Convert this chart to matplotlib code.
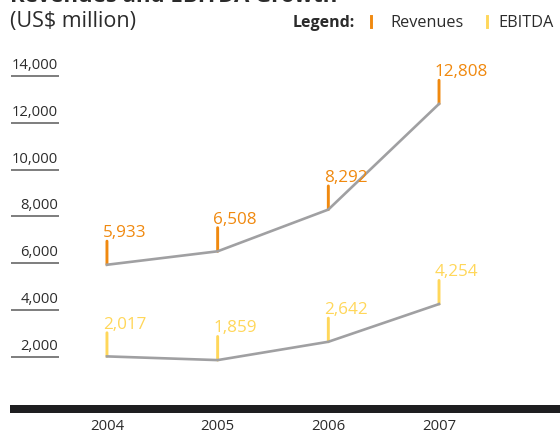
import matplotlib

matplotlib.use("Agg")
import matplotlib.pyplot as plt
from matplotlib.patches import Rectangle
from matplotlib.transforms import blended_transform_factory

plt.rcParams["font.family"] = ["Open Sans", "DejaVu Sans"]

years = [2004, 2005, 2006, 2007]
revenues = [5933, 6508, 8292, 12808]
ebitda = [2017, 1859, 2642, 4254]
y_ticks = [2000, 4000, 6000, 8000, 10000, 12000, 14000]

ORANGE = "#F0890F"
YELLOW = "#FFD75A"
LINE_GREY = "#A0A0A2"
TEXT = "#2B2B2B"

W, H = 560, 433
fig = plt.figure(figsize=(W / 100, H / 100), dpi=100)

# axes spans from the left margin to the right edge, down to the black base bar
left, right, top, bottom = 10, 560, 50, 405
ax = fig.add_axes([left / W, 1 - bottom / H, (right - left) / W, (bottom - top) / H])
ax.set_xlim(2003.124, 2008.093)
ax.set_ylim(-60, 15111)
ax.axis("off")

# y ticks drawn as underlined labels
for v in y_ticks:
    ax.plot([0.002, 0.089], [v, v], transform=ax.get_yaxis_transform(),
            color="#5A5A5A", lw=1.1, solid_capstyle="butt")
    ax.annotate(f"{v:,}", xy=(0.0873, v), xycoords=("axes fraction", "data"),
                xytext=(0, 5), textcoords="offset points",
                ha="right", va="baseline", fontsize=10.6, color=TEXT)

for values, color in [(revenues, ORANGE), (ebitda, YELLOW)]:
    ax.plot(years, values, color=LINE_GREY, lw=1.9, zorder=3,
            solid_joinstyle="miter")
    for x, v in zip(years, values):
        ax.annotate("", xy=(x, v), xytext=(0, 17), textcoords="offset points",
                    arrowprops=dict(arrowstyle="-", color=color, lw=2.1,
                                    shrinkA=0, shrinkB=0), zorder=2)
        ax.annotate(f"{v:,}", xy=(x, v), xytext=(-3, 20),
                    textcoords="offset points", ha="left", va="baseline",
                    fontsize=12.3, color=color)

# year labels below the base bar
year_trans = blended_transform_factory(ax.transData, fig.transFigure)
for x in years:
    ax.text(x, 1 - 427 / H, str(x), transform=year_trans, ha="center",
            va="center", fontsize=10.7, color=TEXT)

fig.add_artist(Rectangle((10 / W, 1 - 413 / H), 550 / W, 8 / H,
                         transform=fig.transFigure, color="#1E1E20", lw=0))

fig.text(10 / W, 1 - 1.5 / H, "Revenues and EBITDA Growth", fontsize=16,
         fontweight="bold", color=TEXT, va="baseline", ha="left")
fig.text(10 / W, 1 - 27 / H, "(US$ million)", fontsize=15.5, color=TEXT,
         va="baseline", ha="left")

fig.text(293 / W, 1 - 27 / H, "Legend:", fontsize=11.5, fontweight="bold",
         color=TEXT, va="baseline", ha="left")
fig.text(390 / W, 1 - 27 / H, "Revenues", fontsize=11.7, color=TEXT,
         va="baseline", ha="left")
fig.text(498 / W, 1 - 27 / H, "EBITDA", fontsize=11.7, color=TEXT,
         va="baseline", ha="left")
for xp, color in [(371, ORANGE), (487, YELLOW)]:
    fig.add_artist(plt.Line2D([xp / W, xp / W], [1 - 27 / H, 1 - 16 / H],
                              color=color, lw=2.1, transform=fig.transFigure))

fig.savefig("out.png", dpi=100)
